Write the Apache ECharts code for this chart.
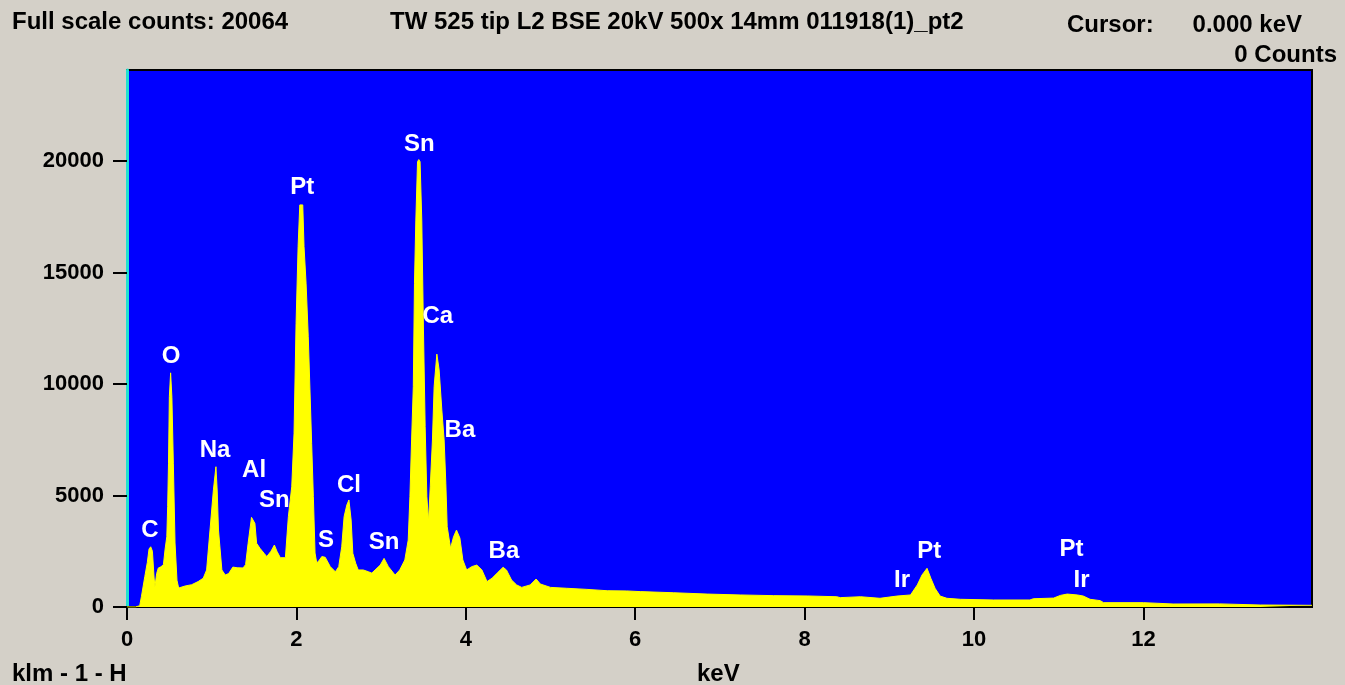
<!DOCTYPE html>
<html>
<head>
<meta charset="utf-8">
<script src="https://cdn.jsdelivr.net/npm/echarts@6/dist/echarts.min.js"></script>
<style>
html,body{margin:0;padding:0;background:#D4D0C8;}
#chart{width:1345px;height:685px;}
</style>
</head>
<body>
<div id="chart"></div>
<script>
// Spectrum: energy (keV) and counts
const energy = [0.00,0.10,0.15,0.17,0.21,0.24,0.26,0.28,0.30,0.32,0.33,0.35,0.37,0.40,0.43,0.45,0.47,0.48,0.49,0.50,0.515,0.53,0.547,0.567,0.59,0.61,0.626,0.685,0.764,0.84,0.90,0.94,0.98,1.02,1.05,1.065,1.08,1.12,1.16,1.20,1.25,1.30,1.37,1.40,1.43,1.47,1.51,1.53,1.57,1.62,1.65,1.70,1.74,1.77,1.81,1.87,1.905,1.945,1.972,1.996,2.02,2.04,2.075,2.09,2.114,2.14,2.16,2.18,2.20,2.22,2.24,2.27,2.30,2.34,2.40,2.46,2.50,2.535,2.563,2.595,2.62,2.646,2.666,2.70,2.73,2.79,2.85,2.89,2.99,3.035,3.086,3.165,3.22,3.28,3.32,3.34,3.36,3.38,3.394,3.41,3.43,3.445,3.46,3.48,3.50,3.52,3.54,3.56,3.58,3.606,3.626,3.658,3.685,3.717,3.744,3.764,3.78,3.82,3.855,3.89,3.93,3.965,4.01,4.07,4.13,4.19,4.25,4.31,4.37,4.44,4.48,4.54,4.60,4.66,4.76,4.83,4.88,5.00,5.19,5.43,5.67,5.90,6.06,6.45,6.85,7.24,7.63,8.03,8.38,8.42,8.66,8.89,9.09,9.25,9.33,9.386,9.445,9.49,9.54,9.60,9.68,9.84,10.23,10.66,10.70,10.94,11.02,11.10,11.22,11.29,11.37,11.49,11.53,12.00,12.35,12.90,13.38,13.99];
const counts = [0,0,60,460,1360,2000,2600,2700,2500,1300,910,1500,1750,1800,1900,2600,3150,4500,6450,9430,10500,9400,6450,2870,1200,850,790,940,1000,1140,1290,1660,3450,5250,6290,5200,3450,1660,1435,1500,1790,1760,1750,1900,2860,4020,3750,2860,2630,2400,2260,2500,2780,2500,2210,2210,4050,5390,7790,12720,16160,18030,18030,16160,14520,12120,9730,7340,4950,2420,1970,2100,2260,2230,1810,1580,1810,2700,4050,4570,4800,3900,2410,1960,1660,1660,1580,1520,1880,2180,1810,1430,1660,2110,3000,4950,7490,9880,14520,17350,19970,20064,19970,17350,12420,8090,4950,3830,5390,7490,9880,11340,10630,8830,7490,5550,3600,2630,3150,3450,3090,2110,1660,1810,1880,1660,1140,1290,1520,1780,1660,1210,990,880,990,1255,1030,880,840,790,730,720,690,640,580,540,510,495,460,420,460,390,490,540,990,1435,1735,1290,840,490,390,345,315,315,370,400,520,580,540,490,345,285,195,195,135,140,90,75];

// Peak labels (name, anchor energy, anchor counts)
const peakNames = ['C','O','Na','Al','Sn','Pt','S','Cl','Sn','Sn','Ca','Ba','Ba','Pt','Ir','Pt','Ir'];
const peakE     = [0.27,0.52,1.04,1.50,1.74,2.07,2.35,2.62,3.035,3.45,3.67,3.93,4.45,9.47,9.15,11.15,11.27];
const peakC     = [3450,11250,7040,6140,4800,18830,3000,5470,2910,20760,13050,7940,2510,2510,1210,2600,1210];

// Axis ticks
const xTicks = [0,2,4,6,8,10,12];
const yTicks = [0,5000,10000,15000,20000];

const FONT = 'Liberation Sans';
const HF = 'bold 24px "Liberation Sans"';
const chart = echarts.init(document.getElementById('chart'), null, {renderer:'canvas'});

const spectrum = energy.map((e,i)=>[e,counts[i]]);
const labels = peakNames.map((n,i)=>({name:n,value:[peakE[i],peakC[i]]}));

chart.setOption({
  backgroundColor:'#D4D0C8',
  animation:false,
  grid:{left:127,top:70,right:33,bottom:78,show:true,backgroundColor:'#0000FF',borderColor:'#000000',borderWidth:2},
  xAxis:{
    type:'value',min:0,max:13.99,interval:2,
    axisLine:{show:true,lineStyle:{color:'#000000',width:2}},
    axisTick:{show:true,length:13,lineStyle:{color:'#000000',width:2},customValues:xTicks},
    axisLabel:{color:'#000000',fontFamily:FONT,fontWeight:'bold',fontSize:22,margin:22,customValues:xTicks,formatter:v=>String(v)},
    splitLine:{show:false}
  },
  yAxis:{
    type:'value',min:0,max:24080,interval:5000,
    axisLine:{show:true,lineStyle:{color:'#20E0D0',width:3}},
    axisTick:{show:true,length:14,lineStyle:{color:'#000000',width:2},customValues:yTicks},
    axisLabel:{color:'#000000',fontFamily:FONT,fontWeight:'bold',fontSize:22,margin:23,customValues:yTicks,formatter:v=>String(v)},
    splitLine:{show:false}
  },
  series:[
    {
      type:'line',data:spectrum,symbol:'none',
      lineStyle:{color:'#FFFF00',width:1},
      areaStyle:{color:'#FFFF00',opacity:1},
      z:2
    },
    {
      type:'scatter',data:labels,symbolSize:0,
      itemStyle:{opacity:1},
      label:{show:true,position:'inside',formatter:p=>p.name,color:'#FFFFFF',opacity:1,fontFamily:FONT,fontWeight:'bold',fontSize:24},
      z:5
    }
  ],
  graphic:[
    {type:'text',left:12,top:10,style:{text:'Full scale counts: 20064',font:HF,fill:'#000'}},
    {type:'text',left:390,top:10,style:{text:'TW 525 tip L2 BSE 20kV 500x 14mm 011918(1)_pt2',font:HF,fill:'#000'}},
    {type:'text',left:1067,top:13,style:{text:'Cursor:',font:HF,fill:'#000'}},
    {type:'text',right:43,top:13,style:{text:'0.000 keV',font:HF,fill:'#000'}},
    {type:'text',right:8,top:43,style:{text:'0 Counts',font:HF,fill:'#000'}},
    {type:'text',left:12,top:662,style:{text:'klm - 1 - H',font:HF,fill:'#000'}},
    {type:'text',left:697,top:662,style:{text:'keV',font:HF,fill:'#000'}}
  ]
});
</script>
</body>
</html>
